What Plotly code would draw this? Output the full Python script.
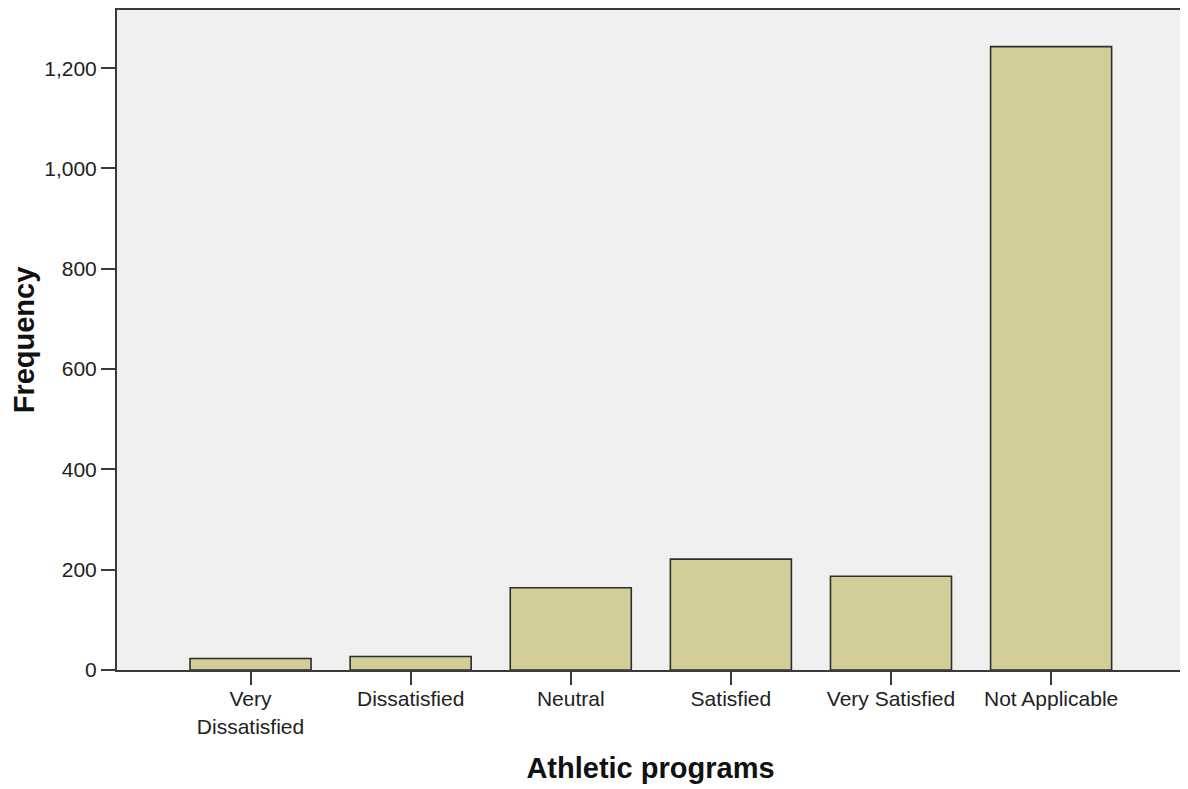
import plotly.graph_objects as go

categories = ["Very<br>Dissatisfied", "Dissatisfied", "Neutral", "Satisfied",
              "Very Satisfied", "Not Applicable"]
frequency = [23, 27, 164, 221, 187, 1243]
y_ticks = [0, 200, 400, 600, 800, 1000, 1200]
y_tick_labels = ["0", "200", "400", "600", "800", "1,000", "1,200"]

font_family = "Liberation Sans, Arial, sans-serif"

bars = go.Bar(
    x=list(range(len(categories))),
    y=frequency,
    width=0.756,
    marker=dict(color="#d3ce97", line=dict(color="#2e2e2e", width=1.6)),
)

# page body has an 8px margin, so the figure is a bit smaller than the window
fig = go.Figure(data=[bars])
fig.update_layout(
    width=1180,
    height=781,
    margin=dict(l=109, r=4, t=0, b=119),
    paper_bgcolor="white",
    plot_bgcolor="#f0f0f0",
    showlegend=False,
    font=dict(family=font_family, size=21, color="#222222"),
    xaxis=dict(
        tickmode="array",
        tickvals=list(range(len(categories))),
        ticktext=categories,
        range=[-0.834, 5.83],
        ticks="outside",
        ticklen=13,
        tickwidth=1.5,
        tickcolor="#3a3a3a",
        ticklabelstandoff=-4,
        showline=True,
        linecolor="#3a3a3a",
        linewidth=2,
        mirror=True,
        showgrid=False,
        zeroline=False,
        title=dict(text="Athletic programs", standoff=21,
                   font=dict(family=font_family, size=29, color="#111111", weight="bold")),
    ),
    yaxis=dict(
        tickmode="array",
        tickvals=y_ticks,
        ticktext=y_tick_labels,
        range=[0, 1316],
        ticks="outside",
        ticklen=14,
        tickwidth=1.5,
        tickcolor="#3a3a3a",
        showline=True,
        linecolor="#3a3a3a",
        linewidth=2,
        mirror=True,
        showgrid=False,
        zeroline=False,
        title=dict(text="Frequency", standoff=5,
                   font=dict(family=font_family, size=29, color="#111111", weight="bold")),
    ),
)

fig.write_html("out.html")
